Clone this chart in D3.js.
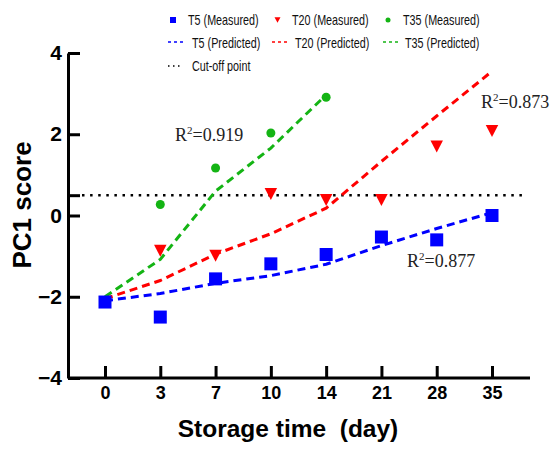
<!DOCTYPE html>
<html>
<head>
<meta charset="utf-8">
<script src="https://cdn.jsdelivr.net/npm/d3@7"></script>
<style>
  body { margin: 0; background: white; }
</style>
</head>
<body>
<div id="chart"></div>
<script>
const days = ["0", "3", "7", "10", "14", "21", "28", "35"];
const yTicks = [-4, -2, 0, 0.5, 2, 4];

// measured PC1 scores
const t5Measured = [-2.13, -2.5, -1.56, -1.19, -0.96, -0.53, -0.6, 0.0];
const t20Measured = [-2.13, -0.87, -0.99, 0.53, 0.38, 0.38, 1.7, 2.08];
const t35Measured = [-2.13, 0.27, 1.17, 2.03, 2.91];

// predicted PC1 scores
const t5Predicted = [-2.1, -1.92, -1.67, -1.48, -1.2, -0.74, -0.32, 0.07];
const t20Predicted = [-2.05, -1.6, -0.95, -0.45, 0.18, 1.33, 2.45, 3.55];
const t35Predicted = [-2.0, -1.08, 0.6, 1.66, 2.97];

const cutOff = 0.5;
const r2Labels = ["0.919", "0.873", "0.877"];

const width = 551,
    height = 449;

const blue = "#0000ff",
    red = "#ff0000",
    green = "#14b414";

const svg = d3.select("#chart").append("svg")
    .attr("width", width)
    .attr("height", height)
    .style("font-family", "Liberation Sans, Arial, sans-serif");

const x = d3.scalePoint()
    .domain(days)
    .range([105, 492]);

const y = d3.scaleLinear()
    .domain([-4, 4])
    .range([378, 53]);

// axes
const xAxis = svg.append("g")
    .attr("transform", "translate(0,378)")
    .call(d3.axisBottom(x).tickSizeInner(-12).tickSizeOuter(0).tickPadding(8));
xAxis.select(".domain").attr("d", "M68,0H530");

const yAxis = svg.append("g")
    .attr("transform", "translate(68,0)")
    .call(d3.axisLeft(y).tickValues(yTicks).tickSizeInner(-12).tickSizeOuter(0).tickPadding(6)
        .tickFormat(d => d === cutOff ? "" : d3.format("d")(d)));

svg.selectAll(".domain, .tick line")
    .attr("stroke", "black")
    .attr("stroke-width", 3);

xAxis.selectAll("text")
    .attr("fill", "black")
    .style("font-size", "18px")
    .style("font-weight", "bold");

yAxis.selectAll("text")
    .attr("fill", "black")
    .style("font-size", "21px")
    .style("font-weight", "bold");

svg.append("text")
    .attr("x", 288)
    .attr("y", 437)
    .attr("text-anchor", "middle")
    .style("font-size", "24.5px")
    .style("font-weight", "bold")
    .style("white-space", "pre")
    .text("Storage time  (day)");

svg.append("text")
    .attr("transform", "translate(31,205) rotate(-90)")
    .attr("text-anchor", "middle")
    .style("font-size", "26px")
    .style("font-weight", "bold")
    .text("PC1 score");

// cut-off line
svg.append("line")
    .attr("x1", 82)
    .attr("x2", 522)
    .attr("y1", y(cutOff))
    .attr("y2", y(cutOff))
    .attr("stroke", "black")
    .attr("stroke-width", 2.5)
    .attr("stroke-dasharray", "2.5,5.6");

// predicted lines
const line = d3.line()
    .x((d, i) => x(days[i]))
    .y(d => y(d));

const predicted = [
    {values: t35Predicted, color: green},
    {values: t20Predicted, color: red},
    {values: t5Predicted, color: blue}
];

svg.append("g")
    .attr("fill", "none")
    .attr("stroke-width", 3)
    .attr("stroke-dasharray", "8,5")
    .selectAll("path")
    .data(predicted)
    .join("path")
    .attr("stroke", d => d.color)
    .attr("d", d => line(d.values));

// measured points
function triangle(cx, cy, w, h) {
    return `M${cx - w / 2},${cy - h / 2}L${cx + w / 2},${cy - h / 2}L${cx},${cy + h / 2}Z`;
}

svg.append("g")
    .selectAll("circle")
    .data(t35Measured)
    .join("circle")
    .attr("cx", (d, i) => x(days[i]))
    .attr("cy", d => y(d))
    .attr("r", 4.5)
    .attr("fill", green);

svg.append("g")
    .selectAll("path")
    .data(t20Measured)
    .join("path")
    .attr("d", (d, i) => triangle(x(days[i]), y(d), 12.5, 12))
    .attr("fill", red);

svg.append("g")
    .selectAll("rect")
    .data(t5Measured)
    .join("rect")
    .attr("x", (d, i) => x(days[i]) - 6.5)
    .attr("y", d => y(d) - 6.5)
    .attr("width", 13)
    .attr("height", 13)
    .attr("fill", blue);

// R2 labels
const r2Pos = [[175, 141], [481, 108], [407, 267]];
r2Labels.forEach(function(label, i) {
    const t = svg.append("text")
        .attr("x", r2Pos[i][0])
        .attr("y", r2Pos[i][1])
        .style("font-family", "Liberation Serif, Times New Roman, serif")
        .style("font-size", "18px")
        .attr("fill", "#222");
    t.append("tspan").text("R");
    t.append("tspan").attr("dy", -7).style("font-size", "11px").text("2");
    t.append("tspan").attr("dy", 7).text("=" + label);
});

// legend
const legend = svg.append("g")
    .style("font-family", "Liberation Sans, Arial, sans-serif")
    .style("font-size", "14px");

legend.append("rect")
    .attr("x", 170).attr("y", 17).attr("width", 6).attr("height", 6)
    .attr("fill", blue);
legend.append("path")
    .attr("d", triangle(277.5, 20, 6, 5.5))
    .attr("fill", red);
legend.append("circle")
    .attr("cx", 388).attr("cy", 20).attr("r", 2.5)
    .attr("fill", green);

const legendDashes = [
    {x: 168, y: 42, color: blue, dash: "3,3"},
    {x: 272, y: 42, color: red, dash: "3,3"},
    {x: 383, y: 42, color: green, dash: "3,3"},
    {x: 168, y: 66, color: "black", dash: "1.5,3.5"}
];

legend.selectAll("line")
    .data(legendDashes)
    .join("line")
    .attr("x1", d => d.x)
    .attr("x2", d => d.x + 15)
    .attr("y1", d => d.y)
    .attr("y2", d => d.y)
    .attr("stroke", d => d.color)
    .attr("stroke-width", 1.6)
    .attr("stroke-dasharray", d => d.dash);

const legendLabels = [
    {x: 188, y: 20, text: "T5 (Measured)"},
    {x: 292, y: 20, text: "T20 (Measured)"},
    {x: 403, y: 20, text: "T35 (Measured)"},
    {x: 192, y: 43, text: "T5 (Predicted)"},
    {x: 295, y: 43, text: "T20 (Predicted)"},
    {x: 405, y: 43, text: "T35 (Predicted)"},
    {x: 192, y: 66, text: "Cut-off point"}
];

// narrow font: squeeze regular sans horizontally
legend.selectAll("text")
    .data(legendLabels)
    .join("text")
    .attr("transform", d => `translate(${d.x},${d.y}) scale(0.77,1)`)
    .attr("dy", "0.35em")
    .attr("fill", "#111")
    .text(d => d.text);
</script>
</body>
</html>
